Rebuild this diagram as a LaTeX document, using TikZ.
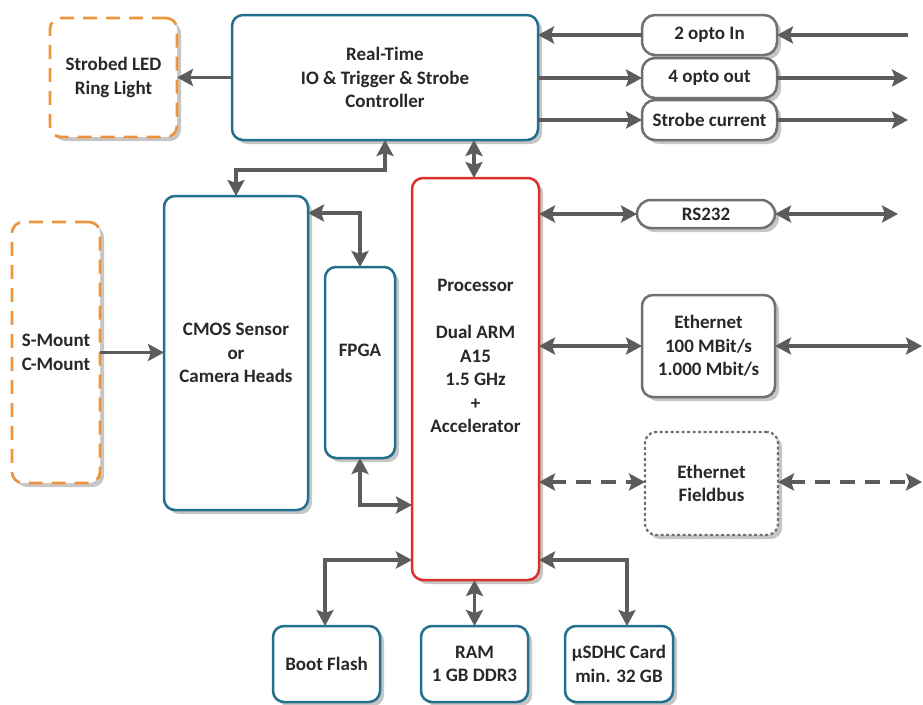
\documentclass[tikz,border=0pt]{standalone}
\usepackage{fontspec}
\setmainfont{Carlito}
\usetikzlibrary{arrows.meta,shadows,calc}
\definecolor{teal1}{RGB}{35,112,142}
\definecolor{red1}{RGB}{222,48,42}
\definecolor{orange1}{RGB}{236,148,62}
\definecolor{gray1}{RGB}{112,112,112}
\definecolor{arrowgray}{RGB}{92,92,92}
\definecolor{txt}{RGB}{40,40,40}
\tikzset{
  base/.style={rounded corners=11pt, fill=white, line width=2.5pt, outer sep=0pt, inner sep=0pt,
    align=center, text=txt, font=\bfseries\fontsize{19}{23.5}\selectfont,
    drop shadow={shadow xshift=4pt, shadow yshift=-4pt, fill=black!28, opacity=0.8}},
  bluebox/.style={base, draw=teal1},
  redbox/.style={base, draw=red1},
  orbox/.style={base, draw=orange1, line width=2.7pt, dash pattern=on 14pt off 9pt},
  graybox/.style={base, draw=gray1},
  dotbox/.style={base, draw=gray1, line width=2.2pt, dash pattern=on 3pt off 2.5pt},
  lbl/.style={align=center, text=txt, font=\bfseries\fontsize{19}{23.5}\selectfont, inner sep=0pt},
  tipa/.tip={Stealth[length=16pt,width=17pt,inset=3pt]},
  arr/.style={draw=arrowgray, line width=3.2pt, -tipa},
  biarr/.style={draw=arrowgray, line width=3.2pt, tipa-tipa},
  dasharr/.style={biarr, dash pattern=on 15pt off 10pt},
}
\begin{document}
\begin{tikzpicture}[x=1pt,y=-1pt]
\useasboundingbox (0,0) rectangle (923,704);
% boxes
\node[orbox, minimum width=127pt, minimum height=119pt] (led) at (113.5,77.5) {Strobed LED\\Ring Light};
\node[bluebox, minimum width=306pt, minimum height=125pt] (rt) at (385,77.5) {Real-Time\\IO \& Trigger \& Strobe\\Controller};
\node[graybox, rounded corners=13pt, minimum width=135pt, minimum height=40pt] (optoin) at (709.5,35) {2 opto In};
\node[graybox, rounded corners=13pt, minimum width=135pt, minimum height=40pt] (optoout) at (709.5,78) {4 opto out};
\node[graybox, rounded corners=13pt, minimum width=135pt, minimum height=40pt] (strobe) at (709.5,120) {Strobe current};
\node[graybox, rounded corners=14pt, minimum width=138pt, minimum height=28pt] (rs) at (706,214) {RS232};
\node[redbox, minimum width=127pt, minimum height=402pt] (proc) at (475.5,379) {};
\node[lbl] (proctext) at (475.5,356) {Processor\\[23.5pt]Dual ARM\\A15\\1.5 GHz\\+\\Accelerator};
\node[bluebox, minimum width=144pt, minimum height=314pt] (cmos) at (236,353) {CMOS Sensor\\or\\Camera Heads};
\node[bluebox, minimum width=70pt, minimum height=191pt] (fpga) at (360,362.5) {};
\node[lbl] (fpgatext) at (360,350) {FPGA};
\node[orbox, minimum width=88pt, minimum height=261pt] (smount) at (56,352.5) {S-Mount\\C-Mount};
\node[graybox, minimum width=133pt, minimum height=102pt] (eth) at (708.5,346) {Ethernet\\100 MBit/s\\1.000 Mbit/s};
\node[dotbox, minimum width=133pt, minimum height=103pt] (fb) at (711.5,483.5) {Ethernet\\Fieldbus};
\node[bluebox, minimum width=107pt, minimum height=76pt] (boot) at (326.5,664) {Boot Flash};
\node[bluebox, minimum width=107pt, minimum height=76pt] (ram) at (474.5,664) {RAM\\1 GB DDR3};
\node[bluebox, minimum width=108pt, minimum height=76pt] (sd) at (619,664) {µSDHC Card\\min. 32 GB};
% free ends
\coordinate (inR) at (908,35);
\coordinate (outR) at (908,78);
\coordinate (strR) at (908,120);
\coordinate (rsR) at (898,214);
\coordinate (ethR) at (922,346);
\coordinate (fbR) at (922,482);
% connectors
\draw[arr] (rt.west) -- (led.east);
\draw[arr] (inR) -- (optoin.east);
\draw[arr] (optoin.west) -- (optoin.west -| rt.east);
\draw[arr] (optoout.west -| rt.east) -- (optoout.west);
\draw[arr] (optoout.east) -- (outR);
\draw[arr] (strobe.west -| rt.east) -- (strobe.west);
\draw[arr] (strobe.east) -- (strR);
\draw[biarr] (proc.north -| 474,0) -- (rt.south -| 474,0);
\draw[biarr] (rt.south) -- ++(0,30) -| (cmos.north);
\draw[arr] (smount.east) -- (smount.east -| cmos.west);
\draw[biarr] ([yshift=-17pt]cmos.north east) -| (fpga.north);
\draw[biarr] (fpga.south) |- (proc.west |- 0,505);
\draw[biarr] (proc.east |- rs.west) -- (rs.west);
\draw[biarr] (rs.east) -- (rsR);
\draw[biarr] (proc.east |- eth.west) -- (eth.west);
\draw[biarr] (eth.east) -- (ethR);
\draw[dasharr] (proc.east |- fbR) -- (fbR -| fb.west);
\draw[dasharr] (fbR -| fb.east) -- (fbR);
\draw[biarr] (proc.west |- 0,560) -| ([xshift=-1.5pt]boot.north);
\draw[biarr] (proc.south -| ram.north) -- (ram.north);
\draw[biarr] (proc.east |- 0,560) -| ([xshift=8pt]sd.north);
\end{tikzpicture}
\end{document}
